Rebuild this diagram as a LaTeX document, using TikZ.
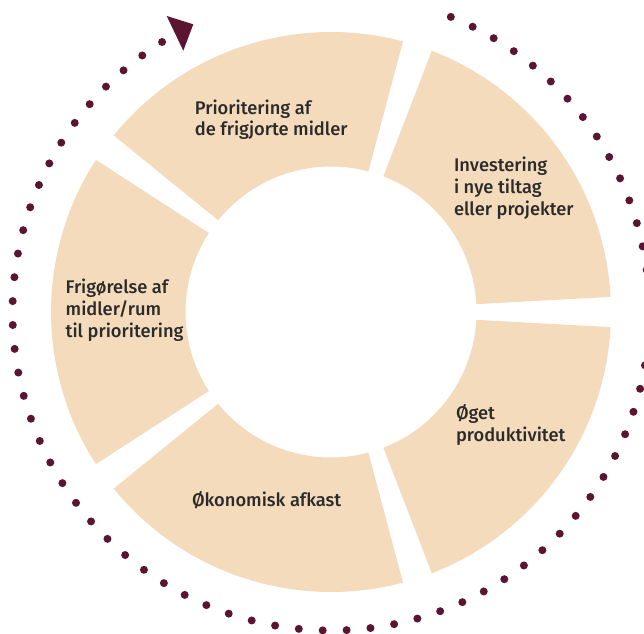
\documentclass[tikz,border=0pt]{standalone}
\usepackage{fontspec}
\setmainfont{Fira Sans Medium}
\definecolor{beige}{HTML}{F4DBBB}
\definecolor{maroon}{HTML}{5C1530}
\definecolor{ink}{HTML}{2B2B2B}
\begin{document}
\begin{tikzpicture}[x=1pt,y=1pt,
  seg/.style={fill=beige},
  lbl/.style={anchor=base west, inner sep=0pt, align=left, text=ink,
    font=\fontsize{18.3}{21.7}\selectfont},
  dotmark/.style={fill=maroon}]
\useasboundingbox (0,0) rectangle (644,633);
\clip (0,0) rectangle (644,633);
\def\Rout{280}\def\Rin{145.5}\def\gap{3.1}
\begin{scope}[shift={(331,321)}]
  \foreach \k in {0,...,4}{
    \pgfmathsetmacro\sa{72*\k+\gap}
    \pgfmathsetmacro\sb{72*(\k+1)-\gap}
    \fill[seg] (\sa:\Rout) arc[start angle=\sa,end angle=\sb,radius=\Rout]
      -- (\sb:\Rin) arc[start angle=\sb,end angle=\sa,radius=\Rin] -- cycle;
  }
  \foreach \i in {0,...,71}{
    \pgfmathsetmacro\ta{67.9-\i*4.308}
    \fill[dotmark] (\ta:318.5) circle[radius=4];
  }
\end{scope}
\coordinate (t1) at (166.7,617);
\coordinate (t2) at (193.3,608.7);
\coordinate (t3) at (183.3,582.3);
\fill[maroon] (t1) -- (t2) -- (t3) -- cycle;
\node[lbl] (prio) at (194.7,497) {Prioritering af\\de frigjorte midler};
\node[lbl] (inv) at (453.8,418) {Investering\\i nye tiltag\\eller projekter};
\node[lbl] (frig) at (65.5,296) {Frigørelse af\\midler/rum\\til prioritering};
\node[lbl] (oget) at (455.8,192) {Øget\\produktivitet};
\node[lbl] (okon) at (191.8,127) {Økonomisk afkast};
\end{tikzpicture}
\end{document}
